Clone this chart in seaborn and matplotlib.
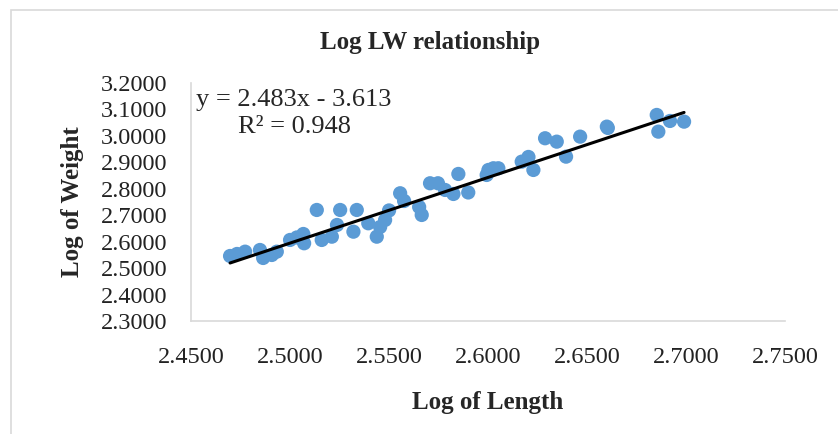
import numpy as np
import pandas as pd
import matplotlib
matplotlib.use("Agg")
import matplotlib.pyplot as plt
import matplotlib.patches as mpatches
import seaborn as sns

# ---- data ----
log_length = [2.4697, 2.4732, 2.4773, 2.4848, 2.4864, 2.4908, 2.4933, 2.5000,
              2.5034, 2.5067, 2.5071, 2.5135, 2.5160, 2.5211, 2.5253, 2.5237,
              2.5320, 2.5337, 2.5395, 2.5438, 2.5455, 2.5480, 2.5500, 2.5556,
              2.5576, 2.5652, 2.5665, 2.5707, 2.5747, 2.5783, 2.5825, 2.5850,
              2.5900, 2.5993, 2.6002, 2.6027, 2.6052, 2.6170, 2.6204, 2.6229,
              2.6288, 2.6347, 2.6394, 2.6465, 2.6600, 2.6605, 2.6852, 2.6860,
              2.6919, 2.6990]
log_weight = [2.5458, 2.5534, 2.5621, 2.5685, 2.5383, 2.5496, 2.5621, 2.6064,
              2.6158, 2.6290, 2.5939, 2.7198, 2.6064, 2.6188, 2.7198, 2.6631,
              2.6377, 2.7198, 2.6695, 2.6188, 2.6555, 2.6820, 2.7180, 2.7830,
              2.7538, 2.7312, 2.7009, 2.8208, 2.8208, 2.7955, 2.7803, 2.8560,
              2.7860, 2.8522, 2.8711, 2.8775, 2.8775, 2.9025, 2.9203, 2.8711,
              2.9910, 2.9781, 2.9214, 2.9971, 3.0349, 3.0300, 3.0791, 3.0160,
              3.0564, 3.0538]
slope = 2.483
intercept = -3.613
r_squared = 0.948
x_ticks = [2.45, 2.50, 2.55, 2.60, 2.65, 2.70, 2.75]
y_ticks = [2.3, 2.4, 2.5, 2.6, 2.7, 2.8, 2.9, 3.0, 3.1, 3.2]

df = pd.DataFrame({"Log of Length": log_length, "Log of Weight": log_weight})

sns.set_style("white")
plt.rcParams['font.family'] = ['Liberation Serif', 'DejaVu Serif']

fig = plt.figure(figsize=(8.38, 4.34), dpi=100)
ax = fig.add_axes([0.228, 0.2604, 0.9368 - 0.228, 0.8088 - 0.2604])

# outer chart border
border = mpatches.Rectangle((11 / 838, -0.1), 1.2, 1 - 10 / 434 + 0.1,
                            transform=fig.transFigure, fill=False,
                            edgecolor='#d9d9d9', linewidth=1.2)
fig.patches.append(border)

sns.scatterplot(data=df, x="Log of Length", y="Log of Weight", ax=ax,
                color='#5b9bd5', s=105, edgecolor='none', linewidth=0, zorder=2)

xl = np.array([min(log_length), max(log_length)])
ax.plot(xl, slope * xl + intercept, color='black', linewidth=2.2, zorder=3)

ax.set_xlim(2.45, 2.75)
ax.set_ylim(2.3, 3.2)
ax.set_xticks(x_ticks)
ax.set_yticks(y_ticks)
ax.set_xticklabels([f"{v:.4f}" for v in x_ticks])
ax.set_yticklabels([f"{v:.4f}" for v in y_ticks])
ax.tick_params(axis='x', length=0, pad=19, labelsize=17.5, colors='#222222')
ax.tick_params(axis='y', length=0, pad=17, labelsize=17.5, colors='#222222')

for side in ['top', 'right']:
    ax.spines[side].set_visible(False)
for side in ['left', 'bottom']:
    ax.spines[side].set_color('#d9d9d9')
    ax.spines[side].set_linewidth(1.2)

ax.set_xlabel("Log of Length", fontsize=18, fontweight='bold', labelpad=16)
ax.set_ylabel("Log of Weight", fontsize=18, fontweight='bold', labelpad=12)

fig.text(430 / 838, 1 - 42 / 434, "Log LW relationship", fontsize=18,
         fontweight='bold', ha='center', va='center')

ax.text(294 / 838, 1 - 100 / 434, f"y = {slope}x - {abs(intercept)}",
        transform=fig.transFigure, fontsize=19, ha='center', va='center')
ax.text(294 / 838, 1 - 127 / 434, f"R² = {r_squared}",
        transform=fig.transFigure, fontsize=19, ha='center', va='center')

fig.savefig("out.png", dpi=100)
